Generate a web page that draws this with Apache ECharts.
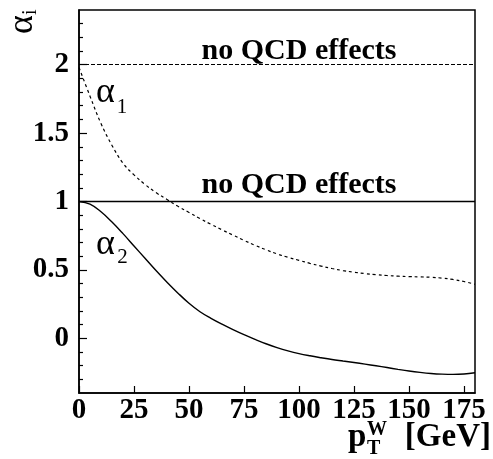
<!DOCTYPE html>
<html><head><meta charset="utf-8">
<script src="https://cdn.jsdelivr.net/npm/echarts@6/dist/echarts.min.js"></script>
<style>html,body{margin:0;padding:0;background:#fff}#c{width:493px;height:459px}</style>
</head><body><div id="c"></div>
<script>
// ---- data ----
const pT = [0,5,10,15,20,25,30,35,40,45,50,55,60,65,70,75,80,85,90,95,100,105,110,115,120,125,130,135,140,145,150,155,160,165,170,175,180];
const alpha1 = [1.98,1.77,1.57,1.41,1.28,1.195,1.125,1.065,1.015,0.965,0.92,0.875,0.833,0.793,0.754,0.716,0.68,0.647,0.617,0.592,0.57,0.548,0.528,0.51,0.495,0.483,0.473,0.465,0.459,0.454,0.451,0.449,0.446,0.44,0.43,0.415,0.395];
const alpha2 = [1.00,0.98,0.925,0.85,0.765,0.675,0.585,0.495,0.41,0.33,0.256,0.194,0.146,0.103,0.063,0.026,-0.008,-0.04,-0.068,-0.092,-0.112,-0.128,-0.142,-0.155,-0.166,-0.177,-0.189,-0.201,-0.214,-0.227,-0.239,-0.249,-0.257,-0.262,-0.264,-0.261,-0.252];
const noQcdAlpha1 = 2;
const noQcdAlpha2 = 1;
const xTickValues = [0,25,50,75,100,125,150,175];
const yLabelValues = [0,0.5,1,1.5,2];
const yMinorValues = [-0.3,-0.2,-0.1,0.1,0.2,0.3,0.4,0.6,0.7,0.8,0.9,1.1,1.2,1.3,1.4,1.6,1.7,1.8,1.9,2.1,2.2,2.3];
const noQcdText = 'no QCD effects';

const FONT = 'Liberation Serif';
const chart = echarts.init(document.getElementById('c'), null, {renderer: 'canvas'});

const pairs = (xs, ys) => xs.map((x, i) => [x, ys[i]]);

const option = {
  animation: false,
  backgroundColor: '#fff',
  grid: {left: 79, right: 18, top: 10, bottom: 66, show: true, borderColor: '#000', borderWidth: 1.5, backgroundColor: 'transparent'},
  xAxis: {
    type: 'value', min: 0, max: 180,
    splitLine: {show: false},
    axisLine: {show: true, onZero: false, lineStyle: {color: '#000', width: 1.5}},
    axisTick: {show: true, inside: true, length: 7, customValues: xTickValues, lineStyle: {color: '#000', width: 1.2}},
    axisLabel: {customValues: xTickValues, margin: 3, color: '#000', fontFamily: FONT, fontWeight: 'bold', fontSize: 29}
  },
  yAxis: [{
    type: 'value', min: -0.4, max: 2.4,
    splitLine: {show: false},
    axisLine: {show: true, onZero: false, lineStyle: {color: '#000', width: 1.5}},
    axisTick: {show: true, inside: true, length: 8, customValues: yLabelValues, lineStyle: {color: '#000', width: 1.2}},
    axisLabel: {customValues: yLabelValues, margin: 10, color: '#000', fontFamily: FONT, fontWeight: 'bold', fontSize: 29,
      formatter: v => String(v)}
  }, {
    type: 'value', min: -0.4, max: 2.4, position: 'left',
    splitLine: {show: false},
    axisLine: {show: false},
    axisTick: {show: true, inside: true, length: 4, customValues: yMinorValues, lineStyle: {color: '#000', width: 1.2}},
    axisLabel: {show: false}
  }],
  series: [
    {
      type: 'line', name: 'alpha1', data: pairs(pT, alpha1), smooth: 0.4, symbol: 'none',
      lineStyle: {color: '#000', width: 1.2, type: [3, 3]},
      markLine: {silent: true, symbol: 'none', label: {show: false},
        lineStyle: {color: '#000', width: 1.2, type: [4, 2]}, data: [{yAxis: noQcdAlpha1}]}
    },
    {
      type: 'line', name: 'alpha2', data: pairs(pT, alpha2), smooth: 0.4, symbol: 'none',
      lineStyle: {color: '#000', width: 1.4, type: 'solid'},
      markLine: {silent: true, symbol: 'none', label: {show: false},
        lineStyle: {color: '#000', width: 1.4, type: 'solid'}, data: [{yAxis: noQcdAlpha2}]}
    }
  ]
};
chart.setOption(option);

function txt(x, y, text, size, bold, align, extra) {
  return Object.assign({
    type: 'text', x: x, y: y, silent: true,
    style: {text: text, fill: '#000', font: (bold ? 'bold ' : '') + size + 'px "' + FONT + '"',
      textAlign: align || 'left', textVerticalAlign: 'middle'}
  }, extra || {});
}

const p1 = chart.convertToPixel({gridIndex: 0}, [100, noQcdAlpha1]);
const p2 = chart.convertToPixel({gridIndex: 0}, [100, noQcdAlpha2]);

chart.setOption({
  graphic: [
    txt(p1[0], p1[1] - 13, noQcdText, 30, true, 'center'),
    txt(p2[0], p2[1] - 16, noQcdText, 30, true, 'center'),
    // alpha_1 label
    txt(96, 93, 'α', 36, false, 'left'),
    txt(122, 107.5, '1', 21, false, 'center'),
    // alpha_2 label
    txt(96, 245, 'α', 36, false, 'left'),
    txt(122.5, 257.5, '2', 21, false, 'center'),
    // y-axis title alpha_i (rotated)
    {type: 'group', x: 34, y: 34, rotation: Math.PI / 2, silent: true, children: [
      txt(0, -11, 'α', 36, false, 'left'),
      txt(19, -3, 'i', 20, false, 'left')
    ]},
    // x-axis title p_T^W [GeV]
    txt(348, 437, 'p', 33, true, 'left'),
    txt(367, 449, 'T', 20, true, 'left'),
    txt(367, 430, 'W', 20, true, 'left'),
    txt(491, 437, '[GeV]', 33, true, 'right')
  ]
});
</script>
</body></html>
